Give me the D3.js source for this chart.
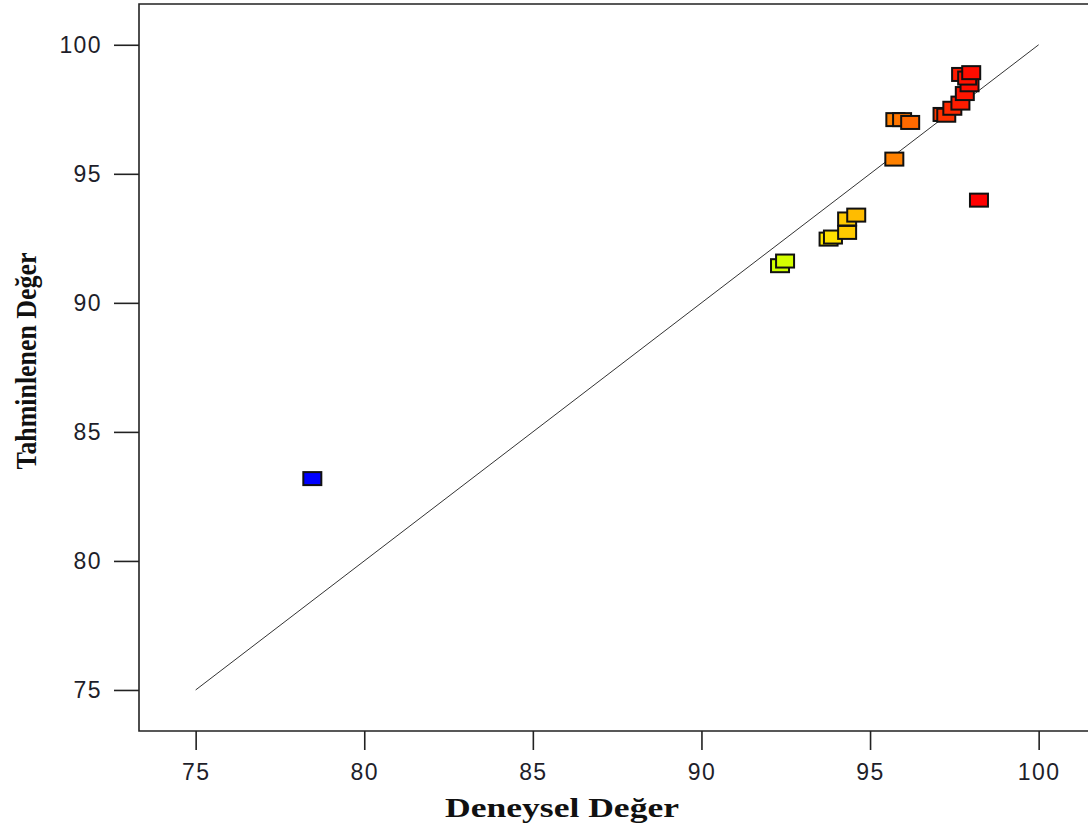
<!DOCTYPE html>
<html>
<head>
<meta charset="utf-8">
<script src="https://cdn.jsdelivr.net/npm/d3@7"></script>
<style>
  body { margin: 0; background: #fff; }
  svg { display: block; }
</style>
</head>
<body>
<div id="chart"></div>
<script>
var actual    = [78.46, 92.33, 92.48, 93.77, 93.90, 94.32, 94.32, 94.59,
                 95.72, 95.75, 95.95, 96.19,
                 97.15, 97.26, 97.44, 97.68, 97.81, 97.95, 97.70, 97.88, 98.00, 98.23];
var predicted = [83.19, 91.44, 91.62, 92.47, 92.55, 92.73, 93.25, 93.40,
                 95.57, 97.10, 97.10, 96.99,
                 97.30, 97.27, 97.54, 97.74, 98.11, 98.45, 98.85, 98.71, 98.92, 93.98];
var xTicks = [75, 80, 85, 90, 95, 100];
var yTicks = [75, 80, 85, 90, 95, 100];
var lineEnds = [75, 100];

var W = 1088, H = 827;
var margin = {top: 4, left: 139, right: -10, bottom: 96};
var width = W - margin.left - margin.right;
var height = H - margin.top - margin.bottom;

var svg = d3.select("#chart").append("svg")
  .attr("width", W).attr("height", H);

var g = svg.append("g")
  .attr("transform", "translate(" + margin.left + "," + margin.top + ")");

var x = d3.scaleLinear().domain([73.32, 101.76]).range([0, width]);
var y = d3.scaleLinear().domain([73.41, 101.58]).range([height, 0]);

// colour by actual value, blue -> red like the original software
var lo = d3.min(actual), hi = d3.max(actual);
var color = d3.scaleLinear()
  .domain([lo, lo + (hi - lo) * 0.25, lo + (hi - lo) * 0.5, lo + (hi - lo) * 0.75, hi])
  .range(["#0000ff", "#00ffff", "#00ff00", "#ffff00", "#ff0000"]);

var data = actual.map(function(a, i) { return {a: a, p: predicted[i]}; });

// frame
g.append("path")
  .attr("d", "M" + width + ",0H0V" + height + "H" + width)
  .attr("fill", "none").attr("stroke", "#222").attr("stroke-width", 1.6);

var xAxis = g.append("g")
  .attr("transform", "translate(0," + height + ")")
  .call(d3.axisBottom(x).tickValues(xTicks).tickSize(19).tickSizeOuter(0).tickPadding(14));
var yAxis = g.append("g")
  .call(d3.axisLeft(y).tickValues(yTicks).tickSize(25).tickSizeOuter(0).tickPadding(12));

[xAxis, yAxis].forEach(function(ax) {
  ax.select(".domain").remove();
  ax.selectAll("line").attr("stroke", "#222").attr("stroke-width", 1.6);
  ax.selectAll("text")
    .attr("fill", "#1e1e2a")
    .style("font-family", "'Liberation Sans', Arial, sans-serif")
    .style("font-size", "23px")
    .style("letter-spacing", "1.4px");
});

// y = x reference line
g.append("line")
  .attr("x1", x(lineEnds[0])).attr("y1", y(lineEnds[0]))
  .attr("x2", x(lineEnds[1])).attr("y2", y(lineEnds[1]))
  .attr("stroke", "#333").attr("stroke-width", 1);

// points
var rw = 18, rh = 13;
g.selectAll(".pt").data(data).enter().append("rect")
  .attr("class", "pt")
  .attr("x", function(d) { return x(d.a) - rw / 2; })
  .attr("y", function(d) { return y(d.p) - rh / 2; })
  .attr("width", rw).attr("height", rh)
  .attr("fill", function(d) { return color(d.a); })
  .attr("stroke", "#111").attr("stroke-width", 2);

// axis titles
svg.append("text")
  .attr("x", 562).attr("y", 817)
  .attr("text-anchor", "middle")
  .attr("textLength", 234).attr("lengthAdjust", "spacingAndGlyphs")
  .style("font-family", "'Liberation Serif', 'Times New Roman', serif")
  .style("font-weight", "bold").style("font-size", "27px")
  .attr("fill", "#111")
  .text("Deneysel Değer");

svg.append("text")
  .attr("transform", "translate(36,361) rotate(-90)")
  .attr("text-anchor", "middle")
  .attr("textLength", 217).attr("lengthAdjust", "spacingAndGlyphs")
  .style("font-family", "'Liberation Serif', 'Times New Roman', serif")
  .style("font-weight", "bold").style("font-size", "30px")
  .attr("fill", "#111")
  .text("Tahminlenen Değer");
</script>
</body>
</html>
